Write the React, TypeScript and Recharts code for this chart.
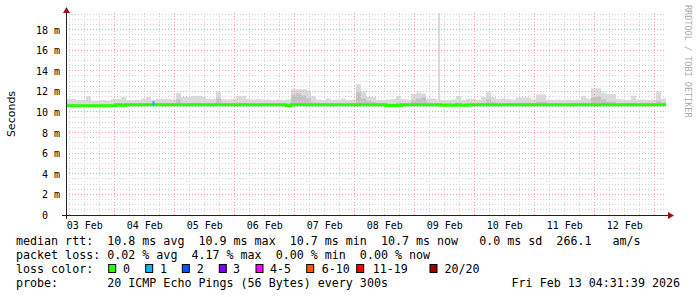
import React from 'react';
import { ComposedChart, Area, Line, XAxis, YAxis, ReferenceLine } from 'recharts';

// time axis: hours since graph start (Feb 3 04:31), 2 h consolidation steps
const STEP_HOURS = 2;

// median rtt (ms) per step
const medianRtt = [
  10.6, 10.6, 10.6, 10.6, 10.6, 10.6, 10.6, 10.6, 10.6, 10.6,
  10.7, 10.65, 10.7, 10.7, 10.7, 10.7, 10.7, 10.7, 10.7, 10.7,
  10.7, 10.7, 10.7, 10.7, 10.7, 10.7, 10.7, 10.7, 10.7, 10.7,
  10.7, 10.7, 10.7, 10.7, 10.7, 10.7, 10.7, 10.7, 10.7, 10.7,
  10.7, 10.7, 10.7, 10.7, 10.6, 10.7, 10.7, 10.7, 10.7, 10.7,
  10.7, 10.7, 10.7, 10.7, 10.7, 10.7, 10.7, 10.7, 10.7, 10.7,
  10.7, 10.7, 10.7, 10.7, 10.62, 10.62, 10.62, 10.7, 10.7, 10.7,
  10.7, 10.7, 10.7, 10.7, 10.7, 10.65, 10.68, 10.65, 10.7, 10.65,
  10.68, 10.7, 10.7, 10.7, 10.7, 10.7, 10.7, 10.7, 10.7, 10.7,
  10.7, 10.7, 10.7, 10.7, 10.7, 10.7, 10.7, 10.7, 10.7, 10.7,
  10.7, 10.7, 10.7, 10.7, 10.7, 10.7, 10.7, 10.7, 10.7, 10.7,
  10.7, 10.7, 10.7, 10.7, 10.7, 10.7, 10.7, 10.7, 10.7, 10.7,
  10.7,
];

// smoke: lowest ping (ms)
const lowRtt = [
  10.5, 10.5, 10.5, 10.5, 10.5, 10.5, 10.5, 10.5, 10.5, 10.5,
  10.6, 10.55, 10.6, 10.6, 10.6, 10.6, 10.6, 10.6, 10.6, 10.6,
  10.6, 10.6, 10.6, 10.6, 10.6, 10.6, 10.6, 10.6, 10.6, 10.6,
  10.6, 10.6, 10.6, 10.6, 10.6, 10.6, 10.6, 10.6, 10.6, 10.6,
  10.6, 10.6, 10.6, 10.6, 10.5, 10.6, 10.6, 10.6, 10.6, 10.6,
  10.6, 10.6, 10.6, 10.6, 10.6, 10.6, 10.6, 10.6, 10.6, 10.6,
  10.6, 10.6, 10.6, 10.6, 10.52, 10.52, 10.52, 10.6, 10.6, 10.6,
  10.6, 10.6, 10.6, 10.6, 10.6, 10.55, 10.55, 10.55, 10.55, 10.55,
  10.55, 10.6, 10.6, 10.6, 10.6, 10.6, 10.6, 10.6, 10.6, 10.6,
  10.6, 10.6, 10.6, 10.6, 10.6, 10.6, 10.6, 10.6, 10.6, 10.6,
  10.6, 10.6, 10.6, 10.6, 10.6, 10.6, 10.6, 10.6, 10.6, 10.6,
  10.6, 10.6, 10.6, 10.6, 10.6, 10.6, 10.6, 10.6, 10.6, 10.6,
  10.6,
];

// smoke: highest ping (ms)
const highRtt = [
  11.25, 11.25, 11.15, 11.15, 11.55, 11.1, 11.1, 11.15, 11.1, 11.25,
  11.25, 11.45, 11.15, 11.15, 11.15, 11.3, 11.45, 11.15, 11.25, 11.25,
  11.25, 11.2, 11.85, 11.45, 11.45, 11.55, 11.55, 11.5, 11.25, 11.25,
  11.95, 11.25, 11.2, 11.25, 11.55, 11.55, 11.25, 11.2, 11.25, 11.2,
  11.2, 11.15, 11.2, 11.15, 11.2, 12.2, 12.2, 12.2, 12.1, 11.55,
  11.2, 11.15, 11.3, 11.15, 11.2, 11.3, 11.15, 11.2, 12.7, 11.95,
  11.45, 11.45, 11.15, 11.15, 11.2, 11.25, 11.55, 11.25, 11.2, 11.75,
  11.9, 11.8, 11.3, 11.3, 11.2, 11.15, 11.15, 11.2, 11.55, 11.15,
  11.25, 11.25, 11.15, 11.45, 11.95, 11.45, 11.25, 11.3, 11.25, 11.2,
  11.4, 11.4, 11.4, 11.2, 11.7, 11.7, 11.2, 11.15, 11.2, 11.15,
  11.2, 11.15, 11.2, 11.55, 11.3, 12.3, 12.3, 11.9, 11.75, 11.75,
  11.25, 11.2, 11.15, 11.55, 11.2, 11.2, 11.15, 11.2, 11.95, 11.3,
  11.3,
];

// smoke: denser core (ms)
const coreRtt = [
  10.75, 10.75, 10.75, 10.75, 10.75, 10.75, 10.75, 10.75, 10.75, 10.75,
  10.85, 10.85, 10.85, 10.85, 10.85, 10.85, 10.85, 10.85, 10.85, 10.85,
  10.85, 10.85, 11.2, 10.85, 10.85, 10.9, 10.9, 10.85, 10.85, 10.85,
  11.3, 10.85, 10.85, 10.85, 10.9, 10.9, 10.85, 10.85, 10.85, 10.85,
  10.85, 10.85, 10.85, 10.85, 10.8, 11.6, 11.8, 11.6, 11.3, 10.9,
  10.85, 10.85, 10.85, 10.85, 10.85, 10.85, 10.85, 10.85, 11.9, 11.3,
  11.1, 11.0, 10.85, 10.85, 10.8, 10.8, 10.9, 10.85, 10.85, 11.1,
  11.3, 11.4, 10.9, 10.85, 10.85, 10.8, 10.8, 10.8, 10.9, 10.8,
  10.85, 10.85, 10.85, 10.9, 11.2, 10.95, 10.85, 10.85, 10.85, 10.85,
  10.9, 10.9, 10.9, 10.85, 11.0, 11.0, 10.85, 10.85, 10.85, 10.85,
  10.85, 10.85, 10.85, 10.9, 10.9, 11.4, 11.5, 11.2, 11.0, 11.0,
  10.85, 10.85, 10.85, 10.9, 10.85, 10.85, 10.85, 10.85, 11.1, 10.9,
  10.9,
];

// single tall outlier near 09 Feb
const spikeHours = [148.8, 149.6];
const spikeHigh = [19.6];
// one loss-1 median sample on 04 Feb
const lossOneHours = [34.6, 35.4];
const lossOneRtt = [10.85];

const yTicks = [0, 2, 4, 6, 8, 10, 12, 14, 16, 18];
const yTickLabels = ['0', '2 m', '4 m', '6 m', '8 m', '10 m', '12 m', '14 m', '16 m', '18 m'];
const yMinor = [0.5, 1, 1.5, 2.5, 3, 3.5, 4.5, 5, 5.5, 6.5, 7, 7.5, 8.5, 9, 9.5, 10.5, 11, 11.5,
  12.5, 13, 13.5, 14.5, 15, 15.5, 16.5, 17, 17.5, 18.5, 19, 19.5];

const dayLabels = ['03 Feb', '04 Feb', '05 Feb', '06 Feb', '07 Feb', '08 Feb', '09 Feb', '10 Feb', '11 Feb', '12 Feb'];
const dayNoonHours = [7.48, 31.48, 55.48, 79.48, 103.48, 127.48, 151.48, 175.48, 199.48, 223.48];
const midnightHours = [19.48, 43.48, 67.48, 91.48, 115.48, 139.48, 163.48, 187.48, 211.48, 235.48];
const sixHourHours = [1.48, 7.48, 13.48, 25.48, 31.48, 37.48, 49.48, 55.48, 61.48, 73.48, 79.48, 85.48,
  97.48, 103.48, 109.48, 121.48, 127.48, 133.48, 145.48, 151.48, 157.48, 169.48, 175.48, 181.48,
  193.48, 199.48, 205.48, 217.48, 223.48, 229.48];

const legendLine1 = 'median rtt:  10.8 ms avg  10.9 ms max  10.7 ms min  10.7 ms now   0.0 ms sd  266.1   am/s';
const legendLine2 = 'packet loss: 0.02 % avg  4.17 % max  0.00 % min  0.00 % now';
const legendLine4 = 'probe:       20 ICMP Echo Pings (56 Bytes) every 300s';
const stampText = 'Fri Feb 13 04:31:39 2026';
const lossLabels = ['0', '1', '2', '3', '4-5', '6-10', '11-19', '20/20'];
const lossColors = ['#26ff00', '#00b8ff', '#0059ff', '#7e00ff', '#ff00ff', '#ff5500', '#ff0000', '#a10000'];
const lossSquareX = [108.7, 145.7, 182.3, 219.3, 256, 306.7, 356.7, 430];
const lossLabelX = [123, 160, 196.7, 233, 270, 321.7, 372.7, 444.5];

type Row = { h: number; median: number; band: number[]; core: number[]; loss1?: number };

const baseRows: Row[] = medianRtt.map((m, i) => ({
  h: i * STEP_HOURS,
  median: m,
  band: [lowRtt[i], highRtt[i]],
  core: [lowRtt[i], coreRtt[i]],
}));

const extraRows: Row[] = [];
{
  const si = Math.floor(spikeHours[0] / STEP_HOURS);
  const b = baseRows[si];
  extraRows.push({ ...b, h: spikeHours[0], band: [b.band[0], spikeHigh[0]] });
  extraRows.push({ ...b, h: spikeHours[1] });
  const li = Math.floor(lossOneHours[0] / STEP_HOURS);
  const c = baseRows[li];
  extraRows.push({ ...c, h: lossOneHours[0], loss1: lossOneRtt[0] });
  extraRows.push({ ...c, h: lossOneHours[1], loss1: lossOneRtt[0] });
}
const rows = [...baseRows, ...extraRows].sort((a, b) => a.h - b.h);

const MONO = '"DejaVu Sans Mono", monospace';
const MINOR = '#d2d2d2';
const MAJOR = '#f3a0a0';
const DASH = '1 2';

const XTick = (props: any) => {
  const { x, y, payload } = props;
  const idx = dayNoonHours.indexOf(payload.value);
  return (
    <text x={x} y={y + 13.5} textAnchor="middle" fontFamily={MONO} fontSize={10} fill="#000">
      {dayLabels[idx]}
    </text>
  );
};

const YTick = (props: any) => {
  const { x, y, payload } = props;
  const idx = yTicks.indexOf(payload.value);
  const shift = payload.value === 0 ? 18 : 6;
  return (
    <text x={x - shift} y={y + 4} textAnchor="end" fontFamily={MONO} fontSize={10} fill="#000">
      {yTickLabels[idx]}
    </text>
  );
};

export default function App() {
  return (
    <div style={{ position: 'absolute', left: 0, top: 0, width: 697, height: 297, background: '#fff' }}>
      <style>{`.rrd line { shape-rendering: crispEdges; }`}</style>
      <div className="rrd">
        <ComposedChart width={697} height={297} data={rows} margin={{ top: 12, right: 31, left: 0, bottom: 0 }}>
          <XAxis
            type="number"
            dataKey="h"
            domain={[0, 240]}
            ticks={dayNoonHours}
            interval={0}
            tick={<XTick />}
            axisLine={false}
            tickLine={false}
            tickSize={0}
            tickMargin={0}
            height={82}
            allowDataOverflow
          />
          <YAxis
            type="number"
            domain={[0, 19.7]}
            ticks={yTicks}
            interval={0}
            tick={<YTick />}
            axisLine={false}
            tickLine={false}
            tickSize={0}
            tickMargin={0}
            width={66}
            allowDataOverflow
          />
          {yMinor.map((v) => (
            <ReferenceLine key={'ym' + v} y={v} stroke={MINOR} strokeDasharray={DASH} />
          ))}
          {sixHourHours.map((v) => (
            <ReferenceLine key={'xm' + v} x={v} stroke={MINOR} strokeDasharray={DASH} />
          ))}
          {yTicks.filter((v) => v > 0).map((v) => (
            <ReferenceLine key={'yM' + v} y={v} stroke={MAJOR} strokeDasharray={DASH} />
          ))}
          {midnightHours.map((v) => (
            <ReferenceLine key={'xM' + v} x={v} stroke={MAJOR} strokeDasharray={DASH} />
          ))}
          <Area
            dataKey="band"
            type="stepAfter"
            fill="#dadada"
            fillOpacity={1}
            stroke="none"
            isAnimationActive={false}
          />
          <Area
            dataKey="core"
            type="stepAfter"
            fill="#c2c2c2"
            fillOpacity={1}
            stroke="none"
            isAnimationActive={false}
          />
          <Line
            dataKey="median"
            type="stepAfter"
            stroke="#26ff00"
            strokeWidth={3}
            dot={false}
            isAnimationActive={false}
          />
          <Line
            dataKey="loss1"
            type="stepAfter"
            stroke="#00b8ff"
            strokeWidth={4}
            dot={false}
            connectNulls={false}
            isAnimationActive={false}
          />
        </ComposedChart>
      </div>
      <svg
        width={697}
        height={297}
        style={{ position: 'absolute', left: 0, top: 0, pointerEvents: 'none' }}
      >
        <line x1={62} y1={215.5} x2={669} y2={215.5} stroke="#222" strokeWidth={1} />
        <line x1={66.5} y1={219} x2={66.5} y2={12} stroke="#222" strokeWidth={1} />
        <polygon points="66.5,7 63,13 70,13" fill="#991111" />
        <polygon points="674,215.5 668,212 668,219" fill="#991111" />
        <text
          x={15}
          y={114}
          transform="rotate(-90 15 114)"
          textAnchor="middle"
          fontFamily='"DejaVu Sans", sans-serif'
          fontSize={11}
          fill="#000"
        >
          Seconds
        </text>
        <text
          x={685}
          y={5}
          transform="rotate(90 685 5)"
          textAnchor="start"
          fontFamily={MONO}
          fontSize={8.5}
          fill="#aaaaaa"
        >
          RRDTOOL / TOBI OETIKER
        </text>
        <g fontFamily={MONO} fontSize={11.66} fill="#000" style={{ whiteSpace: 'pre' }}>
          <text x={16} y={245} xmlSpace="preserve">{legendLine1}</text>
          <text x={16} y={259.3} xmlSpace="preserve">{legendLine2}</text>
          <text x={16} y={273.3} xmlSpace="preserve">loss color:</text>
          {lossLabels.map((l, i) => (
            <g key={l}>
              <rect x={lossSquareX[i]} y={264.5} width={7} height={8} fill={lossColors[i]} stroke="#000" strokeWidth={1} />
              <text x={lossLabelX[i]} y={273.3}>{l}</text>
            </g>
          ))}
          <text x={16} y={287.3} xmlSpace="preserve">{legendLine4}</text>
          <text x={680} y={287.3} textAnchor="end">{stampText}</text>
        </g>
      </svg>
    </div>
  );
}
